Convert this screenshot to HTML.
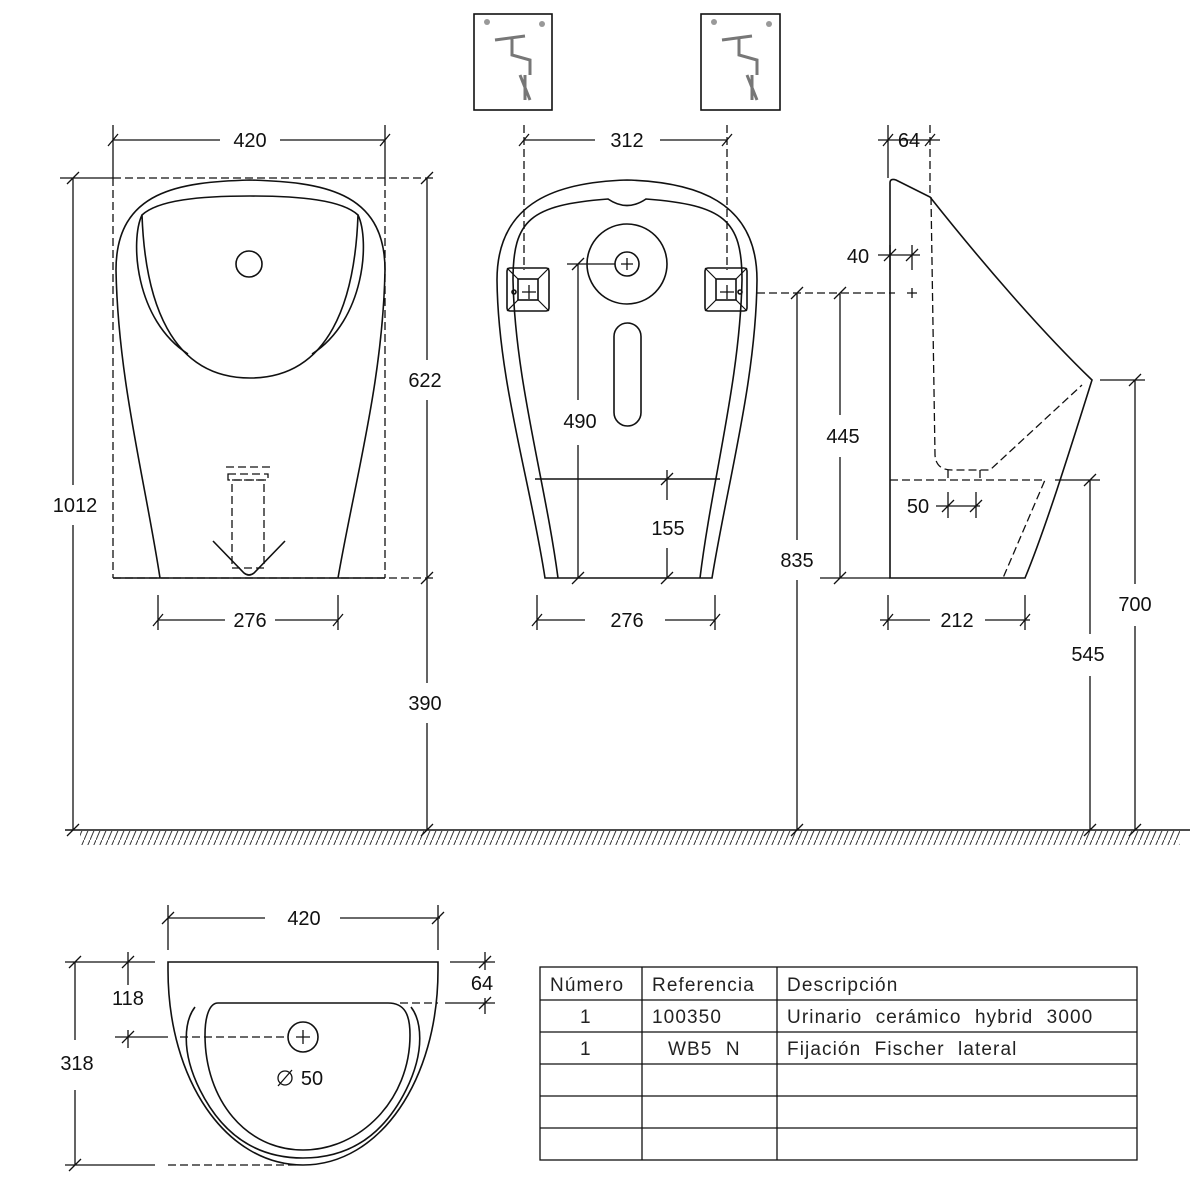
<!DOCTYPE html>
<html><head><meta charset="utf-8"><style>
html,body{margin:0;padding:0;background:#fff}
svg{display:block}
text{font-family:"Liberation Sans",sans-serif;font-size:20px;fill:#111}
.t{font-size:19px;fill:#222;letter-spacing:1.1px;word-spacing:7px}
</style></head><body>
<svg width="1200" height="1200" viewBox="0 0 1200 1200" xmlns="http://www.w3.org/2000/svg">
<defs>
<pattern id="h" width="6" height="14" patternUnits="userSpaceOnUse"><line x1="6" y1="0" x2="0" y2="14" stroke="#333" stroke-width="1"/></pattern>
</defs>
<g fill="none" stroke="#111" stroke-width="1.6">
<!-- floor -->
<line x1="65" y1="830" x2="1190" y2="830"/>
<rect x="80" y="831" width="1100" height="14" fill="url(#h)" stroke="none"/>

<!-- top icons -->
<rect x="474" y="14" width="78" height="96"/>
<rect x="701" y="14" width="79" height="96"/>
<g stroke="#777" stroke-width="3">
<path d="M495 40 L525 36 M512 38 L512 55 L530 60 L530 75 M525 75 L525 100 M520 75 L530 100"/>
<path d="M722 40 L752 36 M739 38 L739 55 L757 60 L757 75 M752 75 L752 100 M747 75 L757 100"/>
</g>
<circle cx="487" cy="22" r="3" fill="#999" stroke="none"/><circle cx="542" cy="24" r="3" fill="#999" stroke="none"/>
<circle cx="714" cy="22" r="3" fill="#999" stroke="none"/><circle cx="769" cy="24" r="3" fill="#999" stroke="none"/>

<!-- FRONT VIEW -->
<path d="M160 578 C145 480 118 380 116 270 C116 190 180 182 250 180 C320 182 385 190 385 270 C383 380 355 480 338 578"/>
<path d="M142 215 C158 200 200 196 250 196 C300 196 342 200 358 215 C355 300 330 378 250 378 C170 378 145 300 142 215Z"/>
<path d="M142 215 C130 240 135 320 188 354 M358 215 C370 240 365 320 312 354"/>
<circle cx="249" cy="264" r="13"/>
<g stroke-dasharray="8,4" stroke-width="1.3">
<line x1="113" y1="178" x2="113" y2="578"/><line x1="385" y1="178" x2="385" y2="578"/>
<line x1="113" y1="178" x2="435" y2="178"/><line x1="113" y1="578" x2="435" y2="578"/>
<rect x="232" y="480" width="32" height="88"/>
<rect x="228" y="474" width="40" height="6"/>
<line x1="226" y1="467" x2="270" y2="467"/>
</g>
<line x1="113" y1="578" x2="385" y2="578"/>
<path d="M213 541 L244 573 Q249 577 254 573 L285 541"/>

<!-- BACK VIEW -->
<path d="M545 578 C530 480 498 380 497 280 C497 200 560 182 627 180 C694 182 757 200 757 280 C756 380 728 480 712 578 Z"/>
<path d="M558 578 C545 480 515 380 513 280 C513 220 530 205 608 199 Q627 212 646 199 C724 205 742 220 742 280 C740 380 712 480 700 578"/>
<line x1="535" y1="479" x2="720" y2="479"/>
<circle cx="627" cy="264" r="40"/>
<circle cx="627" cy="264" r="12"/>
<path d="M621 264h12M627 258v12" stroke-width="1.3"/>
<rect x="614" y="323" width="27" height="103" rx="13.5"/>
<rect x="507" y="268" width="42" height="43" rx="3"/>
<rect x="518" y="279" width="20" height="21"/>
<path d="M507 268l11 11M549 268l-11 11M507 311l11-11M549 311l-11-11" stroke-width="1.2"/>
<rect x="705" y="268" width="42" height="43" rx="3"/>
<rect x="716" y="279" width="20" height="21"/>
<path d="M705 268l11 11M747 268l-11 11M705 311l11-11M747 311l-11-11" stroke-width="1.2"/>
<path d="M522 292h14M529 285v14M720 292h14M727 285v14" stroke-width="1.3"/>
<circle cx="514" cy="292" r="2"/><circle cx="740" cy="292" r="2"/>
<g stroke-dasharray="8,4" stroke-width="1.3">
<line x1="524" y1="125" x2="524" y2="270"/><line x1="727" y1="125" x2="727" y2="270"/>
</g>

<!-- SIDE VIEW -->
<path d="M890 578 L890 183 Q890 178 896 180 L930 197 C980 260 1040 330 1092 380 C1070 450 1045 530 1025 578 Z"/>
<g stroke-dasharray="8,4" stroke-width="1.3">
<path d="M931 197 L935 455 Q936 470 952 470 L990 470 L1082 385"/>
<path d="M890 480 L1045 480 L1003 578"/>
<path d="M948 470v10M980 470v10"/>
<line x1="757" y1="293" x2="895" y2="293"/>
<line x1="930" y1="125" x2="930" y2="197"/>
</g>
<path d="M907 293h10M912 288v10" stroke-width="1.3"/>

<!-- BOTTOM PLAN -->
<path d="M168 962 L438 962 L438 970 C438 1080 380 1165 303 1165 C226 1165 168 1080 168 970 Z"/>
<path d="M195 1007 C185 1020 180 1050 200 1090 C225 1140 262 1158 303 1158 C344 1158 381 1140 406 1090 C426 1050 421 1020 411 1007"/>
<path d="M218 1003 L388 1003 C405 1003 410 1015 410 1035 C410 1100 360 1150 303 1150 C246 1150 205 1100 205 1035 C205 1015 210 1003 218 1003Z"/>
<circle cx="303" cy="1037" r="15"/>
<path d="M296 1037h14M303 1030v14" stroke-width="1.3"/>
<g stroke-dasharray="8,4" stroke-width="1.3">
<line x1="180" y1="1037" x2="288" y2="1037"/>
<line x1="168" y1="1165" x2="300" y2="1165"/>
<line x1="400" y1="1003" x2="438" y2="1003"/>
</g>

<!-- DIMENSIONS -->
<g stroke-width="1.3">
<line x1="113" y1="125" x2="113" y2="178"/><line x1="385" y1="125" x2="385" y2="178"/>
<path d="M113 140H220M280 140H385M108 146l10-12M380 146l10-12"/>
<path d="M60 178H113M73 178V485M73 525V830M67 184l12-12M67 836l12-12"/>
<path d="M427 178V360M427 400V683M427 723V830M421 184l12-12M421 584l12-12M421 836l12-12"/>
<path d="M158 595V630M338 595V630M158 620H225M275 620H338M153 626l10-12M333 626l10-12"/>
<path d="M524 140H595M660 140H727M519 146l10-12M722 146l10-12"/>
<path d="M567 264H615M578 264V400M578 445V578M572 270l12-12M572 584l12-12"/>
<path d="M667 470V500M667 548V578M661 485l12-12M661 584l12-12"/>
<path d="M537 595V630M715 595V630M537 620H585M665 620H715M532 626l10-12M710 626l10-12"/>
<path d="M797 293V540M797 580V830M791 299l12-12M791 836l12-12"/>
<path d="M840 293V415M840 457V578M820 578H890M834 299l12-12M834 584l12-12"/>
<path d="M888 125V178M878 140H940M883 146l10-12M925 146l10-12"/>
<path d="M878 255H920M890 245V270M912 245V270M884 261l12-12M906 261l12-12"/>
<path d="M936 506H980M948 492V518M976 492V518M942 512l12-12M970 512l12-12"/>
<path d="M888 595V630M1025 595V630M880 620H930M985 620H1030M883 626l10-12M1020 626l10-12"/>
<path d="M1055 480H1100M1090 480V634M1090 676V830M1084 486l12-12M1084 836l12-12"/>
<path d="M1100 380H1145M1135 380V584M1135 626V830M1129 386l12-12M1129 836l12-12"/>
<path d="M168 905V950M438 905V950M168 918H265M340 918H440M162 924l12-12M432 924l12-12"/>
<path d="M65 962H155M75 962V1040M75 1090V1165M65 1165H155M69 968l12-12M69 1171l12-12"/>
<path d="M128 952V985M115 1037H168M128 1030V1048M122 968l12-12M122 1043l12-12"/>
<path d="M450 962H495M445 1003H495M485 952V970M485 998V1014M479 968l12-12M479 1009l12-12"/>
</g>
</g>

<!-- TEXT -->
<g text-anchor="middle">
<text x="250" y="147">420</text>
<text x="75" y="512">1012</text>
<text x="425" y="387">622</text>
<text x="425" y="710">390</text>
<text x="250" y="627">276</text>
<text x="627" y="147">312</text>
<text x="580" y="428">490</text>
<text x="668" y="535">155</text>
<text x="627" y="627">276</text>
<text x="797" y="567">835</text>
<text x="843" y="443">445</text>
<text x="909" y="147">64</text>
<text x="858" y="263">40</text>
<text x="918" y="513">50</text>
<text x="957" y="627">212</text>
<text x="1088" y="661">545</text>
<text x="1135" y="611">700</text>
<text x="304" y="925">420</text>
<text x="77" y="1070">318</text>
<text x="128" y="1005">118</text>
<text x="482" y="990">64</text>
<text x="312" y="1085">50</text>
</g>
<g fill="none" stroke="#111" stroke-width="1.3"><circle cx="285" cy="1078" r="7"/><line x1="278" y1="1086" x2="292" y2="1070"/></g>

<!-- TABLE -->
<g fill="none" stroke="#111" stroke-width="1.3">
<rect x="540" y="967" width="597" height="193"/>
<path d="M540 1000H1137M540 1032H1137M540 1064H1137M540 1096H1137M540 1128H1137M642 967V1160M777 967V1160"/>
</g>
<text class="t" x="550" y="991">Número</text>
<text class="t" x="652" y="991">Referencia</text>
<text class="t" x="787" y="991">Descripción</text>
<text class="t" x="580" y="1023">1</text>
<text class="t" x="652" y="1023">100350</text>
<text class="t" x="787" y="1023">Urinario cerámico hybrid 3000</text>
<text class="t" x="580" y="1055">1</text>
<text class="t" x="668" y="1055">WB5 N</text>
<text class="t" x="787" y="1055">Fijación Fischer lateral</text>
</svg>
</body></html>
